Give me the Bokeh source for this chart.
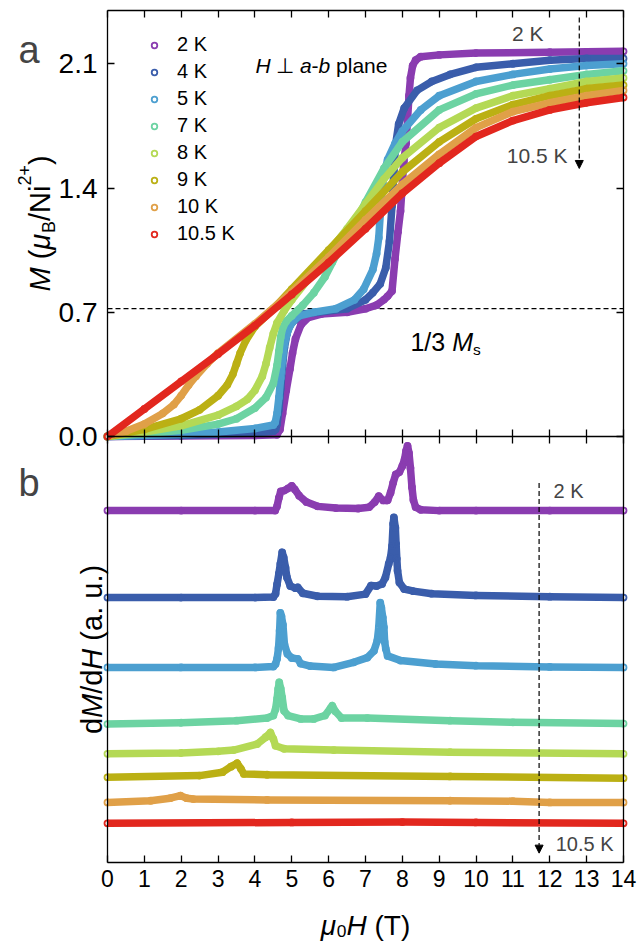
import math
from bokeh.plotting import figure
from bokeh.models import (Range1d, LinearAxis, FixedTicker, PrintfTickFormatter, Label,
                          Legend, LegendItem, Arrow, NormalHead)
from bokeh.embed import file_html
from bokeh.resources import INLINE

FONT = "Liberation Sans"

# ---------------- data ----------------
temps = ["2 K", "4 K", "5 K", "7 K", "8 K", "9 K", "10 K", "10.5 K"]
colors = ["#8a3cb0", "#3a5dab", "#4c9fd0", "#6cd3a2", "#b4d955", "#bbb014", "#e0a048", "#e2271e"]

# panel a : M (muB/Ni2+) vs mu0H (T)
H_2K = [0, 2, 4, 4.6, 4.68, 4.75, 4.85, 4.95, 5.02, 5.1, 5.25, 5.45, 5.8, 6.5, 7.0, 7.3, 7.5, 7.6, 7.72, 7.8,
        7.88, 7.95, 8.04, 8.1, 8.14, 8.18, 8.22, 8.28, 8.36, 8.5, 9, 10, 12, 14]
M_2K = [0, 0.003, 0.006, 0.01, 0.04, 0.13, 0.26, 0.38, 0.47, 0.55, 0.63, 0.67, 0.69, 0.70, 0.72, 0.74, 0.77, 0.79,
        0.82, 1.0, 1.15, 1.27, 1.55, 1.65, 1.78, 1.92, 2.02, 2.09, 2.12, 2.14, 2.15, 2.16, 2.165, 2.17]
H_4K = [0, 2, 4, 4.5, 4.56, 4.6, 4.65, 4.7, 4.75, 4.8, 4.87, 4.96, 5.1, 5.3, 5.7, 6.5, 7.0, 7.2, 7.4, 7.55,
        7.65, 7.72, 7.77, 7.82, 7.9, 8.05, 8.4, 8.8, 9.3, 10, 11, 12, 13, 14]
M_4K = [0, 0.005, 0.02, 0.03, 0.04, 0.07, 0.15, 0.27, 0.40, 0.50, 0.58, 0.63, 0.66, 0.69, 0.70, 0.72, 0.77, 0.81,
        0.86, 0.95, 1.10, 1.30, 1.50, 1.65, 1.76, 1.85, 1.95, 2.00, 2.04, 2.08, 2.10, 2.12, 2.13, 2.13]
H_5K = [0, 2, 3, 4, 4.5, 4.55, 4.6, 4.65, 4.7, 4.75, 4.8, 4.9, 5.0, 5.2, 5.6, 6.2, 6.7, 6.95, 7.2, 7.3, 7.36,
        7.4, 7.45, 7.5, 7.6, 7.8, 8.0, 8.5, 9, 10, 11, 12, 13, 14]
M_5K = [0, 0.012, 0.025, 0.045, 0.065, 0.08, 0.13, 0.22, 0.33, 0.44, 0.52, 0.60, 0.64, 0.68, 0.70, 0.72, 0.77,
        0.83, 0.94, 1.03, 1.12, 1.25, 1.38, 1.48, 1.56, 1.65, 1.72, 1.84, 1.92, 2.00, 2.04, 2.07, 2.09, 2.10]
H_7K = [0, 1, 2, 3, 3.5, 4.0, 4.3, 4.5, 4.6, 4.65, 4.7, 4.75, 4.85, 5.0, 5.3, 5.6, 5.9, 6.1, 6.3, 6.6, 7.0,
        7.5, 8.0, 9, 10, 11, 12, 13, 14]
M_7K = [0, 0.015, 0.035, 0.07, 0.10, 0.16, 0.22, 0.30, 0.40, 0.48, 0.56, 0.61, 0.65, 0.68, 0.74, 0.81, 0.90,
        0.98, 1.06, 1.16, 1.32, 1.51, 1.66, 1.84, 1.93, 1.98, 2.01, 2.04, 2.06]
H_8K = [0, 1, 2, 3, 3.5, 3.8, 4.0, 4.2, 4.3, 4.4, 4.5, 4.6, 4.8, 5.0, 5.5, 6, 6.5, 7, 7.5, 8, 9, 10, 11, 12, 13, 14]
M_8K = [0, 0.025, 0.06, 0.12, 0.17, 0.21, 0.26, 0.34, 0.41, 0.50, 0.58, 0.64, 0.71, 0.77, 0.90, 1.04, 1.17,
        1.31, 1.45, 1.57, 1.74, 1.85, 1.92, 1.96, 2.00, 2.02]
H_9K = [0, 1, 2, 2.5, 3.0, 3.25, 3.4, 3.5, 3.6, 3.75, 4.0, 4.5, 5, 6, 7, 8, 9, 10, 11, 12, 13, 14]
M_9K = [0, 0.04, 0.10, 0.15, 0.23, 0.29, 0.35, 0.41, 0.47, 0.54, 0.62, 0.72, 0.83, 1.05, 1.27, 1.49, 1.66,
        1.79, 1.87, 1.92, 1.96, 1.98]
H_10K = [0, 0.5, 1, 1.5, 1.8, 2.0, 2.2, 2.4, 2.7, 3, 4, 5, 6, 7, 8, 9, 10, 11, 12, 13, 14]
M_10K = [0, 0.03, 0.07, 0.13, 0.18, 0.23, 0.29, 0.34, 0.41, 0.47, 0.635, 0.815, 1.01, 1.22, 1.42, 1.59, 1.74,
         1.83, 1.88, 1.92, 1.95]
H_105K = [0, 1, 2, 3, 4, 5, 6, 7, 8, 9, 10, 11, 12, 13, 14]
M_105K = [0, 0.155, 0.31, 0.465, 0.625, 0.80, 0.98, 1.17, 1.37, 1.54, 1.69, 1.78, 1.84, 1.88, 1.91]

# panel b : dM/dH (a. u.), each curve shifted by its offset
dH_2K = [0, 2, 4, 4.55, 4.6, 4.65, 4.7, 4.8, 4.9, 5.0, 5.08, 5.2, 5.4, 5.7, 6.2, 6.8, 7.1, 7.25, 7.36, 7.48,
         7.6, 7.68, 7.75, 7.82, 7.92, 8.0, 8.06, 8.1, 8.14, 8.18, 8.22, 8.26, 8.3, 8.36, 8.5, 9, 10, 12, 14]
dV_2K = [0, 0, 0, 0, 0.1, 0.3, 0.45, 0.47, 0.52, 0.58, 0.5, 0.35, 0.2, 0.1, 0.06, 0.05, 0.08, 0.2, 0.34, 0.24,
         0.24, 0.42, 0.65, 0.85, 0.9, 1.05, 1.2, 1.4, 1.52, 1.35, 1.0, 0.55, 0.25, 0.08, 0.02, 0, 0, 0, 0]
dH_4K = [0, 2, 4, 4.5, 4.56, 4.6, 4.65, 4.69, 4.74, 4.78, 4.83, 4.87, 4.96, 5.1, 5.16, 5.3, 5.7, 6.5, 7.0, 7.15,
         7.3, 7.45, 7.54, 7.63, 7.68, 7.72, 7.75, 7.77, 7.81, 7.83, 7.85, 7.87, 7.92, 8.05, 8.3, 8.8, 10, 12, 14]
dV_4K = [0, 0, 0, 0.01, 0.09, 0.31, 0.56, 0.79, 1.06, 0.94, 0.70, 0.47, 0.27, 0.22, 0.24, 0.1, 0.03, 0.02, 0.08,
         0.28, 0.27, 0.32, 0.47, 0.79, 0.94, 1.21, 1.73, 1.88, 1.64, 1.26, 0.91, 0.63, 0.35, 0.2, 0.15, 0.09,
         0.05, 0.02, 0]
dH_5K = [0, 2, 4, 4.5, 4.56, 4.6, 4.64, 4.67, 4.69, 4.72, 4.76, 4.8, 4.88, 5.0, 5.16, 5.24, 5.5, 6.14, 6.68,
         7.05, 7.23, 7.32, 7.36, 7.4, 7.43, 7.47, 7.5, 7.52, 7.55, 7.6, 7.95, 8.9, 10, 12, 14]
dV_5K = [0, 0, 0, 0.02, 0.08, 0.2, 0.45, 0.86, 1.28, 1.2, 1.0, 0.55, 0.32, 0.22, 0.2, 0.09, 0.03, 0.0, 0.12,
         0.23, 0.39, 0.63, 0.94, 1.52, 1.4, 1.17, 0.94, 0.6, 0.44, 0.27, 0.16, 0.08, 0.04, 0.01, 0]
dH_7K = [0, 2, 3.5, 4.33, 4.5, 4.56, 4.6, 4.63, 4.66, 4.7, 4.74, 4.79, 4.9, 5.24, 5.6, 5.9, 6.05, 6.1, 6.18,
         6.35, 7.05, 9.3, 11, 14]
dV_7K = [0, 0.03, 0.08, 0.14, 0.2, 0.35, 0.59, 0.82, 0.98, 0.83, 0.62, 0.31, 0.2, 0.12, 0.12, 0.2, 0.37, 0.43,
         0.3, 0.14, 0.14, 0.08, 0.04, 0.01]
dH_8K = [0, 2, 3, 3.43, 4.06, 4.29, 4.42, 4.5, 4.56, 4.79, 6.14, 9.3, 14]
dV_8K = [0, 0.02, 0.06, 0.09, 0.23, 0.39, 0.5, 0.35, 0.19, 0.12, 0.09, 0.04, 0]
dH_9K = [0, 2.5, 3.12, 3.35, 3.52, 3.62, 3.7, 4.33, 9.3, 14]
dV_9K = [0, 0.04, 0.12, 0.25, 0.33, 0.2, 0.08, 0.06, 0.02, -0.02]
dH_10K = [0, 1.17, 1.7, 1.98, 2.15, 2.33, 4.33, 9.3, 11, 12, 14]
dV_10K = [0, 0.04, 0.1, 0.16, 0.1, 0.08, 0.06, 0.04, 0.03, 0.0, 0]
dH_105K = [0, 5, 8, 10, 14]
dV_105K = [0, 0.02, 0.03, 0.02, 0]
offsets = [8.26, 6.22, 4.58, 3.25, 2.55, 2.0, 1.41, 0.92]

x_ticks = list(range(0, 15))
m_ticks = [0.0, 0.7, 1.4, 2.1]
ms_third = 0.72

M_series = [(H_2K, M_2K), (H_4K, M_4K), (H_5K, M_5K), (H_7K, M_7K), (H_8K, M_8K), (H_9K, M_9K),
            (H_10K, M_10K), (H_105K, M_105K)]
D_series = [(dH_2K, dV_2K), (dH_4K, dV_4K), (dH_5K, dV_5K), (dH_7K, dV_7K), (dH_8K, dV_8K), (dH_9K, dV_9K),
            (dH_10K, dV_10K), (dH_105K, dV_105K)]

# ---------------- geometry (pixels of the 637 x 943 canvas) ----------------
W, HGT = 637, 943
FL, FR, FT, FM, FB = 107, 623, 10, 436, 862       # frame left/right/top/middle/bottom
X0, X1 = 0, 14
MA0, MA1 = 0, 2.4                                  # panel a range
UB0, UB1 = 0, 10                                   # panel b range
sx = (FR - FL) / (X1 - X0)
sa = (FM - FT) / (MA1 - MA0)
sb = (FB - FM) / (UB1 - UB0)
x_rng = Range1d(X0 - FL / sx, X1 + (W - FR) / sx)
ya_rng = Range1d(MA0 - (HGT - FM) / sa, MA1 + FT / sa)
yb_rng = Range1d(UB0 - (HGT - FB) / sb, UB1 + FM / sb)

# ---------------- helpers ----------------
WID = {' ': .278, '(': .333, ')': .333, '/': .278, '.': .278, '-': .333, '+': .584, 'M': .833, 'N': .722,
       'H': .722, 'K': .667, 'T': .611, 'B': .667, 'a': .556, 'b': .556, 'd': .556, 'e': .556, 'i': .222,
       'l': .222, 'n': .556, 'p': .556, 's': .5, 'u': .556, 'μ': .576, '⊥': .838}


def tw(s, size):
    return sum(WID.get(c, 0.556) for c in s) * size


def rich(fig, x, y, segs, size, angle=0.0, align="left", yname="default", sub=0.28):
    sizes = [size * 0.62 if sc else size for (_, _, sc) in segs]
    widths = [tw(t, fs) for (t, _, _), fs in zip(segs, sizes)]
    total = sum(widths)
    pos = {"left": 0.0, "center": -total / 2, "right": -total}[align]
    ca, sn = math.cos(angle), math.sin(angle)
    for (t, st, sc), fs, w in zip(segs, sizes, widths):
        lead = len(t) - len(t.lstrip(" "))
        p0 = pos + tw(" " * lead, fs)
        shift = {"sub": -sub * size, "sup": 0.55 * size, None: 0.0}[sc]
        dx = p0 * ca - shift * sn
        dy = p0 * sn + shift * ca
        fig.add_layout(Label(x=x, y=y, x_offset=dx, y_offset=dy, text=t.strip(" "), angle=angle,
                             y_range_name=yname, text_font=FONT, text_font_size=f"{fs:.1f}px",
                             text_font_style=st or "normal", text_color="black",
                             text_align="left", text_baseline="alphabetic"))
        pos += w


def axis(ticks, loc, bounds, yname="default", labels=False, size="23px", fmt=None, standoff=0,
         tin=7, tout=0):
    kw = dict(ticker=FixedTicker(ticks=ticks, minor_ticks=[]), major_tick_in=tin, major_tick_out=tout,
              minor_tick_in=0, minor_tick_out=0, axis_line_width=1.3, major_tick_line_width=1.3,
              axis_line_color="black", major_tick_line_color="black", fixed_location=loc,
              bounds=bounds, y_range_name=yname)
    if labels:
        kw.update(major_label_text_font=FONT, major_label_text_font_size=size,
                  major_label_text_color="black", major_label_standoff=standoff)
    else:
        kw.update(major_label_text_color=None)
    if fmt:
        kw["formatter"] = fmt
    return LinearAxis(**kw)


p = figure(width=W, height=HGT, x_range=x_rng, y_range=ya_rng, extra_y_ranges={"b": yb_rng},
           output_backend="svg", toolbar_location=None, x_axis_location=None, y_axis_location=None,
           min_border=0, outline_line_color=None)
p.grid.visible = False
p.background_fill_color = "white"
p.border_fill_color = "white"

# ---------------- axes of both panels ----------------
p.add_layout(axis(m_ticks, X0, (MA0, MA1), labels=True, size="28px",
                  fmt=PrintfTickFormatter(format="%.1f"), standoff=10), "left")
p.add_layout(axis(m_ticks, X1, (MA0, MA1)), "right")
p.add_layout(axis(x_ticks, MA1, (X0, X1)), "above")
p.add_layout(axis(x_ticks, MA0, (X0, X1), tin=7, tout=7), "below")
p.add_layout(axis([], X0, (UB0, UB1), yname="b", tin=0), "left")
p.add_layout(axis([], X1, (UB0, UB1), yname="b", tin=0), "right")
p.add_layout(axis(x_ticks, UB0, (X0, X1), yname="b", labels=True, size="23px", standoff=7), "below")

# ---------------- panel a ----------------
p.segment(x0=[X0], y0=[ms_third], x1=[X1], y1=[ms_third], line_color="black", line_width=1.3,
          line_dash="5 3")

items = []
for (hx, my), c, t in zip(M_series, colors, temps):
    p.line(hx, my, line_color=c, line_width=7.5, line_cap="butt", line_join="round")
    r = p.scatter(hx, my, marker="circle", size=6, line_color=c, line_width=1.8, fill_color=None)
    items.append(LegendItem(label=t, renderers=[r]))

leg = Legend(items=items, location=(147, 698), padding=0, margin=0, spacing=4, glyph_width=14,
             glyph_height=22, label_height=22, label_standoff=16, label_text_font=FONT,
             label_text_font_size="20px", label_text_color="black", border_line_color=None,
             background_fill_alpha=0)
p.add_layout(leg)

p.add_layout(Arrow(x_start=12.8, y_start=2.36, x_end=12.8, y_end=1.51, line_color="black",
                   line_width=1.2, line_dash="5 3",
                   end=NormalHead(size=8, fill_color="black", line_color="black", line_width=1)))

p.add_layout(Label(x=-2.415, y=2.179, text="a", text_font=FONT, text_font_size="38px",
                   text_align="left", text_baseline="alphabetic"))
p.add_layout(Label(x=11.83, y=2.27, text="2 K", text_font=FONT, text_font_size="21px",
                   text_align="right", text_baseline="middle"))
p.add_layout(Label(x=12.48, y=1.583, text="10.5 K", text_font=FONT, text_font_size="21px",
                   text_align="right", text_baseline="middle"))
rich(p, 8.22, 0.531, [("1/3 ", None, None), ("M", "italic", None), ("s", None, "sub")], 25)
rich(p, 4.015, 2.09, [("H", "italic", None), (" ⊥ ", None, None), ("a", "italic", None),
                      ("-", None, None), ("b", "italic", None), (" plane", None, None)], 21)
rich(p, -1.818, 1.2, [("M", "italic", None), (" (", None, None), ("μ", "italic", None),
                      ("B", None, "sub"), ("/Ni", None, None), ("2+", None, "sup"), (")", None, None)],
     29, angle=math.pi / 2, align="center")

# ---------------- panel b ----------------
for (hx, v), off, c in zip(D_series, offsets, colors):
    yy = [vi + off for vi in v]
    p.line(hx, yy, y_range_name="b", line_color=c, line_width=7.5, line_cap="butt", line_join="round")
    p.scatter(hx, yy, y_range_name="b", marker="circle", size=6, line_color=c, line_width=1.8,
              fill_color=None)

p.add_layout(Arrow(x_start=11.71, y_start=8.91, x_end=11.71, y_end=0.22, y_range_name="b",
                   line_color="black", line_width=1.2, line_dash="5 3",
                   end=NormalHead(size=8, fill_color="black", line_color="black", line_width=1)))
p.add_layout(Label(x=-2.415, y=8.92, y_range_name="b", text="b", text_font=FONT, text_font_size="38px",
                   text_align="left", text_baseline="alphabetic"))
p.add_layout(Label(x=12.10, y=8.73, y_range_name="b", text="2 K", text_font=FONT, text_font_size="20px",
                   text_align="left", text_baseline="middle"))
p.add_layout(Label(x=12.16, y=0.446, y_range_name="b", text="10.5 K", text_font=FONT,
                   text_font_size="20px", text_align="left", text_baseline="middle"))
rich(p, -0.434, 5.0, [("d", None, None), ("M", "italic", None), ("/d", None, None),
                      ("H", "italic", None), (" (a. u.)", None, None)],
     29, angle=math.pi / 2, align="center", yname="b")
rich(p, 7.0, -1.47, [("μ", "italic", None), ("0", None, "sub"), ("H", "italic", None),
                     (" (T)", None, None)], 28, align="center", yname="b", sub=0.22)

open("out.html", "w").write(file_html(p, INLINE))
